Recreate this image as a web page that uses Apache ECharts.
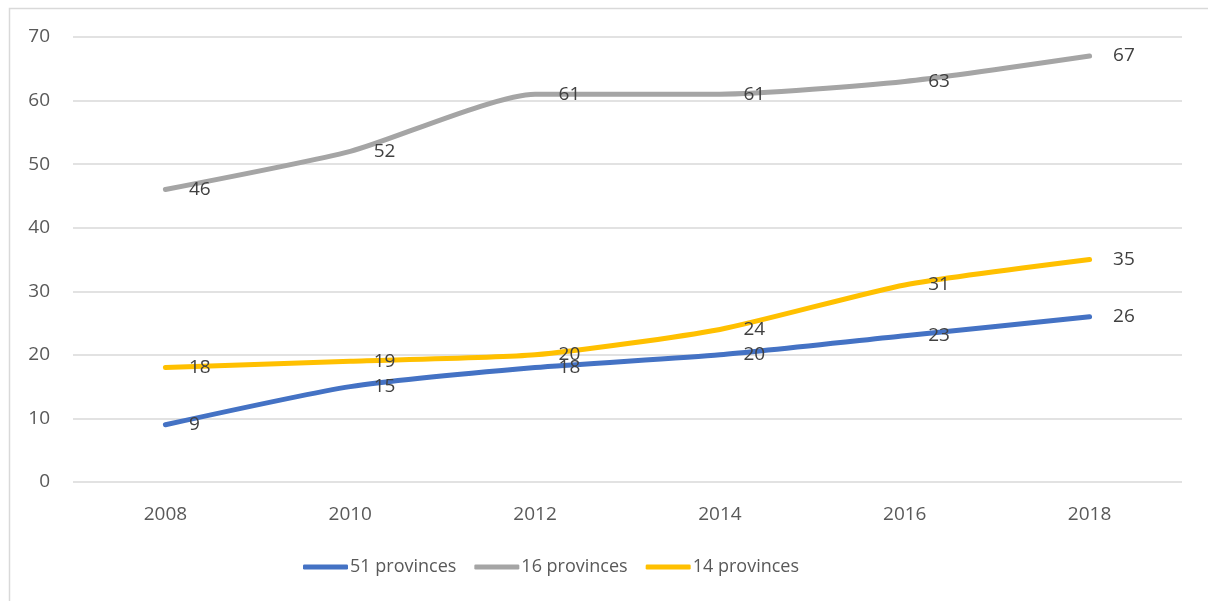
<!DOCTYPE html>
<html>
<head>
<meta charset="utf-8">
<script src="https://cdn.jsdelivr.net/npm/echarts@6/dist/echarts.min.js"></script>
<style>
  html, body { margin: 0; padding: 0; background: #fff; }
  #chart { width: 1208px; height: 601px; }
</style>
</head>
<body>
<div id="chart"></div>
<script>
// Years on the horizontal axis
const years = ['2008', '2010', '2012', '2014', '2016', '2018'];

// Values per group of provinces
const provinces51 = [9, 15, 18, 20, 23, 26];
const provinces16 = [46, 52, 61, 61, 63, 67];
const provinces14 = [18, 19, 20, 24, 31, 35];

const seriesNames = ['51 provinces', '16 provinces', '14 provinces'];
const seriesColors = ['#4472C4', '#A5A5A5', '#FFC000'];

const font = "'Open Sans', 'Noto Sans', sans-serif";

function lineSeries(name, data, color) {
  return {
    name: name,
    type: 'line',
    data: data,
    smooth: 0.2,
    symbol: 'circle',
    symbolSize: 1,
    showSymbol: true,
    lineStyle: { color: color, width: 5, cap: 'round' },
    // points are invisible; only the value labels are shown
    itemStyle: { color: color, opacity: 0 },
    label: {
      show: true,
      position: 'right',
      distance: 23,
      color: '#404040',
      opacity: 1,
      fontFamily: font,
      fontSize: 19
    },
    emphasis: { disabled: true }
  };
}

const chart = echarts.init(document.getElementById('chart'), null, { renderer: 'canvas' });
chart.setOption({
  animation: false,
  backgroundColor: '#ffffff',
  graphic: [{
    type: 'rect',
    shape: { x: 9.5, y: 8.5, width: 1220, height: 620 },
    style: { fill: 'none', stroke: '#D9D9D9', lineWidth: 1.5 },
    silent: true
  }],
  grid: { left: 73, right: 26, top: 37, bottom: 119, containLabel: false },
  legend: {
    bottom: 25,
    left: 303,
    padding: 0,
    itemWidth: 45,
    itemHeight: 5,
    itemGap: 18,
    icon: 'roundRect',
    textStyle: { color: '#595959', fontFamily: font, fontSize: 18, padding: [0, 0, 0, -3] },
    data: seriesNames.map((n, i) => ({
      name: n,
      itemStyle: { color: seriesColors[i], opacity: 1 }
    }))
  },
  xAxis: {
    type: 'category',
    data: years,
    boundaryGap: true,
    axisLine: { show: false },
    axisTick: { show: false },
    axisLabel: { color: '#595959', fontFamily: font, fontSize: 19, margin: 23 }
  },
  yAxis: {
    type: 'value',
    min: 0,
    max: 70,
    interval: 10,
    axisLine: { show: false },
    axisTick: { show: false },
    splitLine: { lineStyle: { color: '#D9D9D9', width: 1.5 } },
    axisLabel: { color: '#595959', fontFamily: font, fontSize: 19, margin: 23 }
  },
  series: [
    lineSeries(seriesNames[0], provinces51, seriesColors[0]),
    lineSeries(seriesNames[1], provinces16, seriesColors[1]),
    lineSeries(seriesNames[2], provinces14, seriesColors[2])
  ]
});
</script>
</body>
</html>
